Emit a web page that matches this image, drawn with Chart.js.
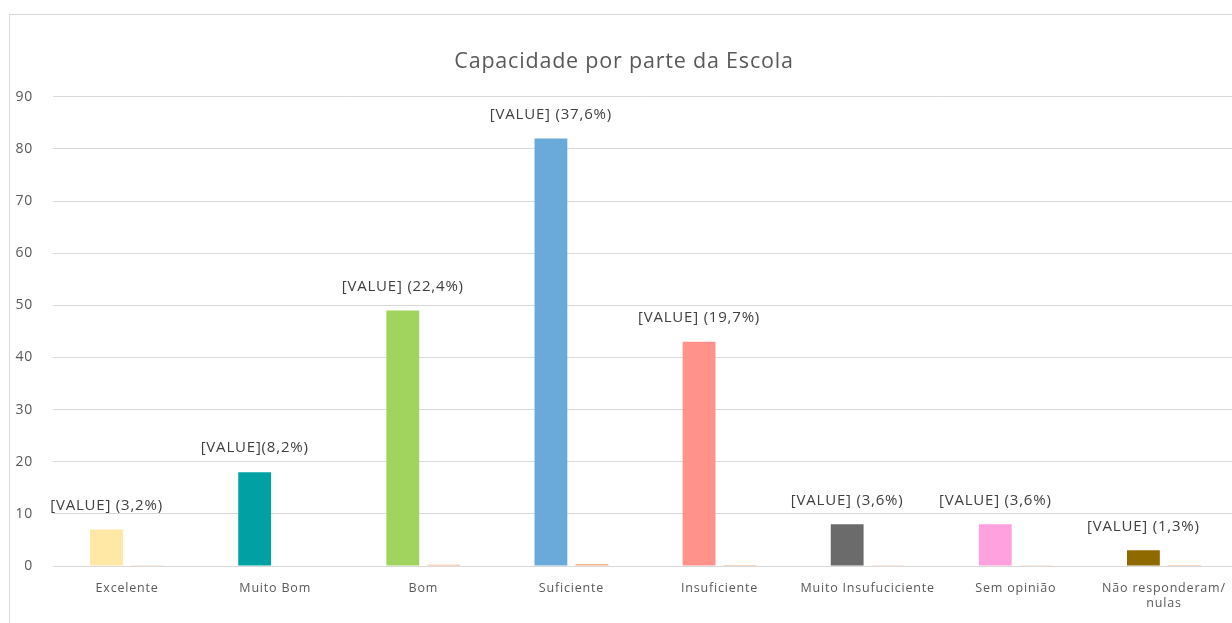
<!DOCTYPE html>
<html>
<head>
<meta charset="utf-8">
<script src="https://cdn.jsdelivr.net/npm/chart.js@4"></script>
<style>
  html, body { margin: 0; padding: 0; background: #fff; overflow: hidden; width: 1232px; height: 623px; }
  #box { position: absolute; left: 9px; top: 14px; width: 1236px; height: 620px; border: 1px solid #d9d9d9; background: #fff; }
  #c { display: block; }
</style>
</head>
<body>
<div id="box"><canvas id="c" width="1236" height="620"></canvas></div>
<script>
const categories = ['Excelente', 'Muito Bom', 'Bom', 'Suficiente', 'Insuficiente', 'Muito Insufuciciente', 'Sem opinião', ['Não responderam/', 'nulas']];
const counts = [7, 18, 49, 82, 43, 8, 8, 3];
const shares = [0.032, 0.082, 0.224, 0.376, 0.197, 0.036, 0.036, 0.013];
const valueLabels = ['[VALUE] (3,2%)', '[VALUE](8,2%)', '[VALUE] (22,4%)', '[VALUE] (37,6%)', '[VALUE] (19,7%)', '[VALUE] (3,6%)', '[VALUE] (3,6%)', '[VALUE] (1,3%)'];
const barColors = ['#FFE8A6', '#00A1A3', '#A1D45F', '#6AAADB', '#FF928A', '#6B6B6B', '#FFA0DF', '#8E6A00'];
const yTicks = [0, 10, 20, 30, 40, 50, 60, 70, 80, 90];

const FONT = '"Open Sans", "Liberation Sans", sans-serif';

const spacingPlugin = {
  id: 'spacing',
  beforeLayout(chart) { chart.ctx.letterSpacing = '0.8px'; },
  beforeDraw(chart) { chart.ctx.letterSpacing = '0.8px'; }
};

const labelPlugin = {
  id: 'valueLabels',
  afterDatasetsDraw(chart) {
    const ctx = chart.ctx;
    const meta = chart.getDatasetMeta(0);
    ctx.save();
    ctx.letterSpacing = '0.8px';
    ctx.font = '15px ' + FONT;
    ctx.fillStyle = '#404040';
    ctx.textAlign = 'center';
    ctx.textBaseline = 'middle';
    meta.data.forEach((el, i) => {
      ctx.fillText(valueLabels[i], el.x, el.y - 24);
    });
    ctx.restore();
  }
};

new Chart(document.getElementById('c'), {
  type: 'bar',
  data: {
    labels: categories,
    datasets: [
      { data: counts, backgroundColor: barColors, categoryPercentage: 0.554, barPercentage: 0.8 },
      { data: shares, backgroundColor: '#F4B183', categoryPercentage: 0.554, barPercentage: 0.8 }
    ]
  },
  options: {
    responsive: false,
    animation: false,
    layout: { padding: { left: 0, right: 8, top: 0, bottom: 9 } },
    plugins: {
      legend: { display: false },
      tooltip: { enabled: false },
      title: {
        display: true,
        text: 'Capacidade por parte da Escola',
        color: '#595959',
        font: { family: FONT, size: 21.5, weight: 'normal' },
        padding: { top: 34, bottom: 22 }
      }
    },
    scales: {
      x: {
        grid: { display: false, drawTicks: false },
        border: { display: false },
        ticks: { color: '#595959', font: { family: FONT, size: 12.5 }, padding: 15, maxRotation: 0, autoSkip: false },
        afterFit(scale) { scale.height = 60; }
      },
      y: {
        min: 0, max: 90,
        afterBuildTicks(scale) { scale.ticks = yTicks.map(v => ({ value: v })); },
        grid: { color: '#d9d9d9', lineWidth: 1, drawTicks: false },
        border: { display: false },
        ticks: { color: '#595959', font: { family: FONT, size: 14 }, padding: 20 },
        afterFit(scale) { scale.width = 43; }
      }
    }
  },
  plugins: [spacingPlugin, labelPlugin]
});
</script>
</body>
</html>
